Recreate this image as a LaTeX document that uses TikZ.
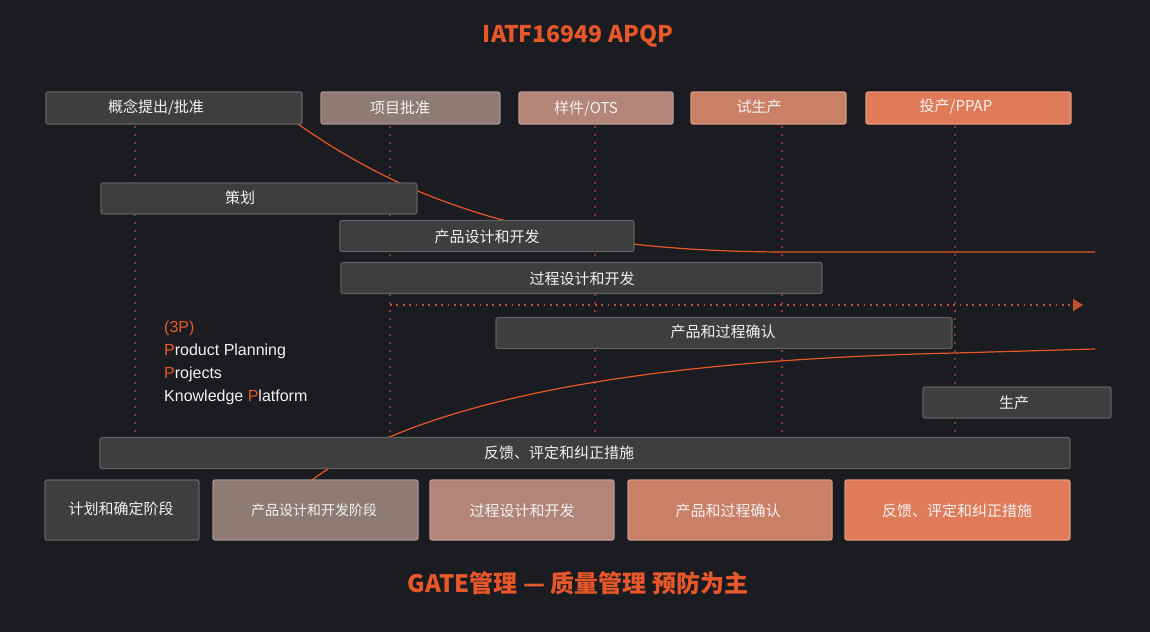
\documentclass[tikz,border=0pt]{standalone}
\usepackage{fontspec}
\setmainfont{Noto Sans CJK SC}
\newfontfamily\arialf{Liberation Sans}
\usetikzlibrary{arrows.meta}
\definecolor{bg}{HTML}{1B1C21}
\definecolor{acc}{HTML}{E8572A}
\definecolor{dotv}{HTML}{8C3B28}
\definecolor{doth}{HTML}{C4502C}
\definecolor{cA}{HTML}{3E3E3E}
\definecolor{cB}{HTML}{8E7B74}
\definecolor{cC}{HTML}{B28578}
\definecolor{cD}{HTML}{CA7F67}
\definecolor{cE}{HTML}{DF7B58}
\definecolor{bar}{HTML}{3E3E3E}
\definecolor{barline}{HTML}{5E5E5E}
\definecolor{txtc}{HTML}{F2F2F2}
\tikzset{
  box/.style={rectangle, rounded corners=2pt, inner sep=0pt, line width=1.2pt},
  gatebox/.style={box, fill=#1, draw=#1!80!white},
  barbox/.style={box, fill=bar, draw=barline},
  lbl/.style={text=txtc, inner sep=0pt, font=\fontsize{15}{18}\selectfont},
  vdot/.style={dotv, line width=1.5pt, dash pattern=on 1.5pt off 6.5pt},
  hdot/.style={doth, line width=1.8pt, dash pattern=on 1.8pt off 4.6pt},
  curve/.style={acc, line width=1.2pt},
  ttl/.style={text=acc, inner sep=0pt, font=\fontsize{23}{28}\selectfont\bfseries},
  ptxt/.style={text=txtc, inner sep=0pt, anchor=west, font=\arialf\fontsize{16}{19}\selectfont},
}
\begin{document}
\begin{tikzpicture}[x=1pt,y=-1pt]
\fill[bg] (0,0) rectangle (1150,632);
\useasboundingbox (0,0) rectangle (1150,632);

% title
\node[ttl] (title) at (578,36) {IATF16949 APQP};

% vertical dotted guides
\foreach \x/\n in {135/a,390/b,595/c,782/d,955/e}{
  \coordinate (vt\n) at (\x,126);
  \coordinate (vb\n) at (\x,437);
  \draw[vdot] (vt\n) -- (vb\n);
}

% curves (behind boxes)
\coordinate (c1s) at (298,124);
\coordinate (c1m) at (790,252);
\coordinate (c1e) at (1095,252);
\draw[curve] (c1s) .. controls (420,210) and (560,252) .. (c1m) -- (c1e);
\coordinate (c2s) at (312,480);
\coordinate (c2m) at (955,353);
\coordinate (c2e) at (1095,349);
\draw[curve] (c2s) .. controls (420,400) and (640,360) .. (c2m) -- (c2e);

% dotted arrow
\coordinate (ha) at (390,305);
\coordinate (hb) at (1083,305);
\draw[hdot, -{Triangle[length=10pt,width=12pt]}] (ha) -- (hb);

% gates (top)
\node[gatebox=cA, minimum width=256pt, minimum height=32pt] (g1) at (174,108) {};
\node[gatebox=cB, minimum width=179pt, minimum height=32pt] (g2) at (410.5,108) {};
\node[gatebox=cC, minimum width=154pt, minimum height=32pt] (g3) at (596,108) {};
\node[gatebox=cD, minimum width=155pt, minimum height=32pt] (g4) at (768.5,108) {};
\node[gatebox=cE, minimum width=205pt, minimum height=32pt] (g5) at (968.5,108) {};
\node[lbl] (g1t) at (156,107.5) {概念提出/批准};
\node[lbl] (g2t) at (400,107.5) {项目批准};
\node[lbl] (g3t) at (586,108.5) {样件/OTS};
\node[lbl] (g4t) at (759,106.5) {试生产};
\node[lbl] (g5t) at (956,106.5) {投产/PPAP};

% bars
\node[barbox, minimum width=316pt, minimum height=31pt] (b1) at (259,198.5) {};
\node[lbl] (b1t) at (240,198) {策划};
\node[barbox, minimum width=294pt, minimum height=31pt] (b2) at (487,236) {};
\node[lbl] (b2t) at (487,237) {产品设计和开发};
\node[barbox, minimum width=481pt, minimum height=31pt] (b3) at (581.5,278) {};
\node[lbl] (b3t) at (582,279) {过程设计和开发};
\node[barbox, minimum width=456pt, minimum height=31pt] (b4) at (724,333) {};
\node[lbl] (b4t) at (723,332) {产品和过程确认};
\node[barbox, minimum width=188pt, minimum height=31pt] (b5) at (1017,402.5) {};
\node[lbl] (b5t) at (1014,403) {生产};
\node[barbox, minimum width=970pt, minimum height=31pt] (b6) at (585,453) {};
\node[lbl] (b6t) at (559,453) {反馈、评定和纠正措施};

% 3P text
\node[ptxt] (p0) at (164,328) {\textcolor{acc}{(3P)}};
\node[ptxt] (p1) at (164,351) {\textcolor{acc}{P}roduct Planning};
\node[ptxt] (p2) at (164,374) {\textcolor{acc}{P}rojects};
\node[ptxt] (p3) at (164,397) {Knowledge \textcolor{acc}{P}latform};

% bottom phases
\node[gatebox=cA, minimum width=154pt, minimum height=60pt] (s1) at (122,510) {};
\node[gatebox=cB, minimum width=205pt, minimum height=60pt] (s2) at (315.5,510) {};
\node[gatebox=cC, minimum width=184pt, minimum height=60pt] (s3) at (522,510) {};
\node[gatebox=cD, minimum width=204pt, minimum height=60pt] (s4) at (730,510) {};
\node[gatebox=cE, minimum width=225pt, minimum height=60pt] (s5) at (957.5,510) {};
\node[lbl] (s1t) at (121,509) {计划和确定阶段};
\node[lbl, font=\fontsize{14}{17}\selectfont] (s2t) at (314,510) {产品设计和开发阶段};
\node[lbl] (s3t) at (522,511) {过程设计和开发};
\node[lbl] (s4t) at (728,511) {产品和过程确认};
\node[lbl] (s5t) at (957,511) {反馈、评定和纠正措施};

% bottom title
\node[ttl, font=\fontsize{24}{28}\selectfont\bfseries] (foot) at (578,583) {GATE管理 — 质量管理 预防为主};
\end{tikzpicture}
\end{document}
